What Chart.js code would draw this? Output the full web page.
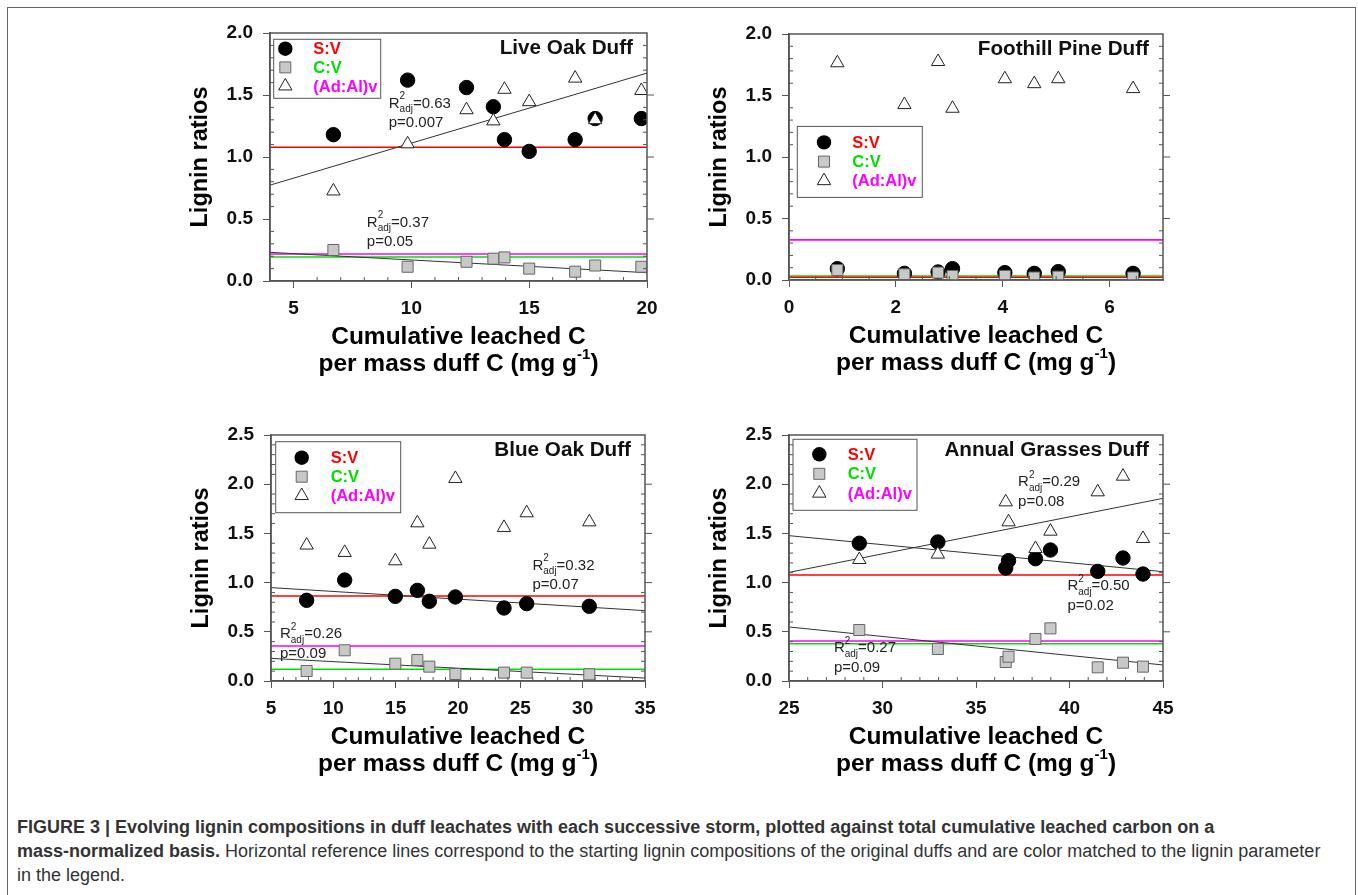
<!DOCTYPE html>
<html>
<head>
<meta charset="utf-8">
<script src="https://cdn.jsdelivr.net/npm/chart.js@4.4.0/dist/chart.umd.min.js"></script>
<style>
  body { margin: 0; background: #fff; width: 1358px; height: 895px; overflow: hidden; position: relative;
         font-family: "Liberation Sans", Arial, sans-serif; }
  #frame { position: absolute; left: 7px; top: 7px; width: 1347px; height: 1000px; border: 1.5px solid #666; }
  canvas { position: absolute; }
  #caption { position: absolute; left: 17px; top: 815px; font-size: 18px; line-height: 24px; color: #333; white-space: nowrap; }
</style>
</head>
<body>
<div id="frame"></div>
<canvas id="liveOak"></canvas>
<canvas id="foothillPine"></canvas>
<canvas id="blueOak"></canvas>
<canvas id="annualGrasses"></canvas>
<div id="caption"><b>FIGURE 3 | Evolving lignin compositions in duff leachates with each successive storm, plotted against total cumulative leached carbon on a</b><br><b>mass-normalized basis.</b> Horizontal reference lines correspond to the starting lignin compositions of the original duffs and are color matched to the lignin parameter<br>in the legend.</div>

<script>
// ---- values ----
const seriesNames = ['S:V', 'C:V', '(Ad:Al)v'];
const yTicks20 = [0, 0.5, 1.0, 1.5, 2.0];
const yTicks25 = [0, 0.5, 1.0, 1.5, 2.0, 2.5];

// Live Oak Duff
const liveOakX = [6.69, 9.84, 12.34, 13.48, 13.95, 15.0, 16.95, 17.8, 19.76];
const liveOakSV = [1.18, 1.62, 1.56, 1.405, 1.14, 1.045, 1.14, 1.31, 1.31];
const liveOakCV = [0.25, 0.115, 0.155, 0.18, 0.19, 0.10, 0.075, 0.125, 0.115];
const liveOakAdAl = [0.725, 1.105, 1.38, 1.29, 1.545, 1.445, 1.635, 1.30, 1.535];
const liveOakRef = [1.079, 0.194, 0.218];            // S:V, C:V, (Ad:Al)v of original duff
const liveOakFits = [['adal', 0.773, 1.677], ['cv', 0.231, 0.067]];
const liveOakNotes = [[9.04, 1.43, '0.63', '0.007'], [8.11, 0.47, '0.37', '0.05']];
const liveOakTicks = [5, 10, 15, 20];

// Foothill Pine Duff
const pineX = [0.905, 2.16, 2.79, 3.06, 4.04, 4.59, 5.04, 6.44];
const pineSV = [0.092, 0.054, 0.065, 0.092, 0.06, 0.054, 0.068, 0.054];
const pineCV = [0.081, 0.046, 0.06, 0.033, 0.033, 0.02, 0.027, 0.02];
const pineAdAl = [1.765, 1.425, 1.775, 1.395, 1.635, 1.595, 1.635, 1.555];
const pineRef = [0.022, 0.033, 0.326];
const pineTicks = [0, 2, 4, 6];

// Blue Oak Duff
const blueOakX = [7.86, 10.91, 14.97, 16.74, 17.70, 19.79, 23.69, 25.51, 30.53];
const blueOakSV = [0.82, 1.026, 0.86, 0.921, 0.81, 0.854, 0.742, 0.786, 0.759];
const blueOakCV = [0.102, 0.312, 0.176, 0.213, 0.146, 0.071, 0.085, 0.085, 0.068];
const blueOakAdAl = [1.38, 1.305, 1.22, 1.606, 1.389, 2.057, 1.559, 1.708, 1.616];
const blueOakRef = [0.864, 0.119, 0.356];
const blueOakFits = [['sv', 0.949, 0.715], ['cv', 0.230, 0.030]];
const blueOakNotes = [[25.97, 1.172, '0.32', '0.07'], [5.72, 0.478, '0.26', '0.09']];
const blueOakTicks = [5, 10, 15, 20, 25, 30, 35];

// Annual Grasses Duff
const grassX = [28.76, 32.96, 36.59, 36.74, 38.18, 38.98, 41.51, 42.86, 43.93];
const grassSV = [1.40, 1.413, 1.148, 1.223, 1.243, 1.331, 1.114, 1.25, 1.087];
const grassCV = [0.518, 0.325, 0.193, 0.247, 0.427, 0.535, 0.139, 0.186, 0.146];
const grassAdAl = [1.233, 1.288, 1.819, 1.616, 1.345, 1.521, 1.921, 2.08, 1.447];
const grassRef = [1.077, 0.379, 0.407];
const grassFits = [['adal', 1.104, 1.856], ['sv', 1.477, 1.111], ['cv', 0.549, 0.163]];
const grassNotes = [[37.25, 2.02, '0.29', '0.08'], [39.89, 0.965, '0.50', '0.02'], [27.40, 0.332, '0.27', '0.09']];
const grassTicks = [25, 30, 35, 40, 45];

// ---- panel layout ----
const FONT = '"Liberation Sans", Arial, sans-serif';
const refColors = ['#ff0000', '#00e000', '#ff00ff'];
const legendColors = ['#ff0000', '#00dd00', '#ff00ff'];

const panels = [
  { id: 'liveOak', title: 'Live Oak Duff', area: [270, 33, 647, 281],
    xMin: 4, xMax: 20, xTicks: liveOakTicks, xMinor: 1, yMax: 2, yTicks: yTicks20,
    x: liveOakX, sv: liveOakSV, cv: liveOakCV, adal: liveOakAdAl, ref: liveOakRef,
    fits: liveOakFits, notes: liveOakNotes,
    legend: { x: 3.7, y: 6.3, w: 107, h: 59, mx: 11.6, tx: 39.6, ry: 9.4, dy: 18.7 } },
  { id: 'foothillPine', title: 'Foothill Pine Duff', area: [789, 34, 1163, 280],
    xMin: 0, xMax: 7, xTicks: pineTicks, xMinor: 0.5, yMax: 2, yTicks: yTicks20,
    x: pineX, sv: pineSV, cv: pineCV, adal: pineAdAl, ref: pineRef,
    fits: [], notes: [],
    legend: { x: 8.3, y: 92.4, w: 125, h: 71, mx: 26.7, tx: 55, ry: 16, dy: 19.2 } },
  { id: 'blueOak', title: 'Blue Oak Duff', area: [271, 435, 645, 681],
    xMin: 5, xMax: 35, xTicks: blueOakTicks, xMinor: 1, yMax: 2.5, yTicks: yTicks25,
    x: blueOakX, sv: blueOakSV, cv: blueOakCV, adal: blueOakAdAl, ref: blueOakRef,
    fits: blueOakFits, notes: blueOakNotes,
    legend: { x: 4.7, y: 6.7, w: 125, h: 71, mx: 26, tx: 55, ry: 16, dy: 19 } },
  { id: 'annualGrasses', title: 'Annual Grasses Duff', area: [789, 435, 1163, 681],
    xMin: 25, xMax: 45, xTicks: grassTicks, xMinor: 1, yMax: 2.5, yTicks: yTicks25,
    x: grassX, sv: grassSV, cv: grassCV, adal: grassAdAl, ref: grassRef,
    fits: grassFits, notes: grassNotes,
    legend: { x: 4, y: 4.3, w: 124, h: 71, mx: 26.3, tx: 54.7, ry: 15, dy: 19.5 } }
];

const PAD_L = 100, PAD_T = 40, PAD_R = 25, PAD_B = 110;

function pts(xs, ys) {
  return xs.map((x, i) => ({ x: x, y: ys[i] }));
}

function drawMarker(ctx, kind, x, y) {
  ctx.save();
  ctx.lineWidth = 1;
  ctx.beginPath();
  if (kind === 0) {
    ctx.fillStyle = '#000';
    ctx.arc(x, y, 7.2, 0, Math.PI * 2);
    ctx.fill();
  } else if (kind === 1) {
    ctx.fillStyle = '#c8c8c8';
    ctx.strokeStyle = '#666';
    ctx.rect(x - 5.5, y - 5.5, 11, 11);
    ctx.fill();
    ctx.stroke();
  } else {
    const r = 7.7;
    ctx.fillStyle = '#fff';
    ctx.strokeStyle = '#222';
    ctx.moveTo(x, y - r);
    ctx.lineTo(x + r * 0.866, y + r * 0.5);
    ctx.lineTo(x - r * 0.866, y + r * 0.5);
    ctx.closePath();
    ctx.fill();
    ctx.stroke();
  }
  ctx.restore();
}

// R2adj / p annotation with super- and subscript
function drawNote(ctx, x, y, r2, p) {
  ctx.fillStyle = '#222';
  ctx.textAlign = 'left';
  ctx.textBaseline = 'middle';
  ctx.font = '15px ' + FONT;
  ctx.fillText('R', x, y);
  const w = ctx.measureText('R').width;
  ctx.font = '10px ' + FONT;
  ctx.fillText('2', x + w, y - 7);
  ctx.fillText('adj', x + w, y + 6);
  const w2 = ctx.measureText('adj').width;
  ctx.font = '15px ' + FONT;
  ctx.fillText('=' + r2, x + w + w2, y);
  ctx.fillText('p=' + p, x, y + 19.5);
}

function makeDecor(p) {
  return {
    id: 'decor',
    afterDraw(chart) {
      const ctx = chart.ctx;
      const { left, right, top, bottom } = chart.chartArea;
      const xs = chart.scales.x, ys = chart.scales.y;
      ctx.save();

      // frame and minor / mirrored ticks
      ctx.strokeStyle = '#555';
      ctx.lineWidth = 1.5;
      ctx.strokeRect(left, top, right - left, bottom - top);
      ctx.lineWidth = 1;
      const nx = Math.round((p.xMax - p.xMin) / p.xMinor);
      for (let i = 1; i < nx; i++) {
        const v = p.xMin + i * p.xMinor;
        if (p.xTicks.some(t => Math.abs(t - v) < 1e-6)) continue;
        const px = xs.getPixelForValue(v);
        ctx.beginPath(); ctx.moveTo(px, bottom); ctx.lineTo(px, bottom - 4); ctx.stroke();
      }
      const ny = Math.round(p.yMax / 0.1);
      for (let i = 1; i < ny; i++) {
        const v = i * 0.1;
        const py = ys.getPixelForValue(v);
        const major = p.yTicks.some(t => Math.abs(t - v) < 1e-6);
        ctx.beginPath();
        if (major) {
          ctx.moveTo(right, py); ctx.lineTo(right + 7, py);
        } else {
          ctx.moveTo(left, py); ctx.lineTo(left + 4, py);
          ctx.moveTo(right, py); ctx.lineTo(right - 4, py);
        }
        ctx.stroke();
      }

      // panel title
      ctx.fillStyle = '#111';
      ctx.font = 'bold 20.7px ' + FONT;
      ctx.textAlign = 'right';
      ctx.textBaseline = 'middle';
      ctx.fillText(p.title, right - 14, top + 15);

      // legend box
      const L = p.legend;
      const bx = left + L.x, by = top + L.y;
      ctx.fillStyle = '#fff';
      ctx.fillRect(bx, by, L.w, L.h);
      ctx.strokeStyle = '#555';
      ctx.strokeRect(bx, by, L.w, L.h);
      seriesNames.forEach((name, i) => {
        const yy = by + L.ry + i * L.dy;
        drawMarker(ctx, i, bx + L.mx, yy);
        ctx.fillStyle = legendColors[i];
        ctx.font = 'bold 16.5px ' + FONT;
        ctx.textAlign = 'left';
        ctx.textBaseline = 'middle';
        ctx.fillText(name, bx + L.tx, yy + 1);
      });

      // regression notes
      p.notes.forEach(n => drawNote(ctx, xs.getPixelForValue(n[0]), ys.getPixelForValue(n[1]), n[2], n[3]));

      // axis titles
      ctx.fillStyle = '#000';
      ctx.font = 'bold 23.5px ' + FONT;
      ctx.textAlign = 'center';
      ctx.textBaseline = 'middle';
      ctx.save();
      ctx.translate(left - 69, (top + bottom) / 2);
      ctx.rotate(-Math.PI / 2);
      ctx.fillText('Lignin ratios', 0, 0);
      ctx.restore();

      const cx = (left + right) / 2;
      ctx.font = 'bold 24.5px ' + FONT;
      ctx.fillText('Cumulative leached C', cx, bottom + 56);
      const a = 'per mass duff C (mg g', sup = '-1', b = ')';
      const wa = ctx.measureText(a).width, wb = ctx.measureText(b).width;
      ctx.font = 'bold 15px ' + FONT;
      const ws = ctx.measureText(sup).width;
      let x0 = cx - (wa + ws + wb) / 2;
      ctx.textAlign = 'left';
      ctx.font = 'bold 24.5px ' + FONT;
      ctx.fillText(a, x0, bottom + 83);
      ctx.font = 'bold 15px ' + FONT;
      ctx.fillText(sup, x0 + wa, bottom + 74);
      ctx.font = 'bold 24.5px ' + FONT;
      ctx.fillText(b, x0 + wa + ws, bottom + 83);

      ctx.restore();
    }
  };
}

panels.forEach(p => {
  const [l, t, r, b] = p.area;
  const cv = document.getElementById(p.id);
  const W = (r - l) + PAD_L + PAD_R, H = (b - t) + PAD_T + PAD_B;
  cv.width = W; cv.height = H;
  cv.style.left = (l - PAD_L) + 'px';
  cv.style.top = (t - PAD_T) + 'px';
  cv.style.width = W + 'px';
  cv.style.height = H + 'px';

  const datasets = [
    { label: '(Ad:Al)v', data: pts(p.x, p.adal), order: 0, pointStyle: 'triangle', radius: 7.7,
      backgroundColor: '#fff', borderColor: '#222', borderWidth: 1 },
    { label: 'C:V', data: pts(p.x, p.cv), order: 1, pointStyle: 'rect', radius: 7.8,
      backgroundColor: '#c8c8c8', borderColor: '#666', borderWidth: 1 },
    { label: 'S:V', data: pts(p.x, p.sv), order: 2, pointStyle: 'circle', radius: 7.2,
      backgroundColor: '#000', borderColor: '#000', borderWidth: 1 }
  ];
  // horizontal reference lines of the original duff
  p.ref.forEach((v, i) => {
    datasets.push({ label: 'ref ' + seriesNames[i], data: [{ x: p.xMin, y: v }, { x: p.xMax, y: v }],
      order: 5 + i, showLine: true, pointRadius: 0, borderColor: refColors[i], borderWidth: 1.6 });
  });
  // linear fits
  p.fits.forEach(f => {
    datasets.push({ label: 'fit ' + f[0], data: [{ x: p.xMin, y: f[1] }, { x: p.xMax, y: f[2] }],
      order: 4, showLine: true, pointRadius: 0, borderColor: '#333', borderWidth: 1 });
  });

  new Chart(cv, {
    type: 'scatter',
    data: { datasets: datasets },
    options: {
      responsive: false,
      animation: false,
      events: [],
      layout: { padding: { left: 0, top: PAD_T, right: PAD_R, bottom: 0 } },
      plugins: { legend: { display: false }, tooltip: { enabled: false } },
      scales: {
        x: {
          type: 'linear', min: p.xMin, max: p.xMax,
          afterBuildTicks: s => { s.ticks = p.xTicks.map(v => ({ value: v })); },
          afterFit: s => { s.height = PAD_B; },
          grid: { drawOnChartArea: false, drawTicks: true, tickLength: 7, color: '#555' },
          border: { display: true, color: '#555', width: 1.5 },
          ticks: { autoSkip: false, maxRotation: 0, padding: 9, color: '#111',
                   font: { family: FONT, size: 19, weight: 'bold' }, callback: v => String(v) }
        },
        y: {
          type: 'linear', min: 0, max: p.yMax,
          afterBuildTicks: s => { s.ticks = p.yTicks.map(v => ({ value: v })); },
          afterFit: s => { s.width = PAD_L; },
          grid: { drawOnChartArea: false, drawTicks: true, tickLength: 7, color: '#555' },
          border: { display: true, color: '#555', width: 1.5 },
          ticks: { autoSkip: false, padding: 10, color: '#111',
                   font: { family: FONT, size: 19, weight: 'bold' }, callback: v => v.toFixed(1) }
        }
      }
    },
    plugins: [makeDecor(p)]
  });
});
</script>
</body>
</html>
